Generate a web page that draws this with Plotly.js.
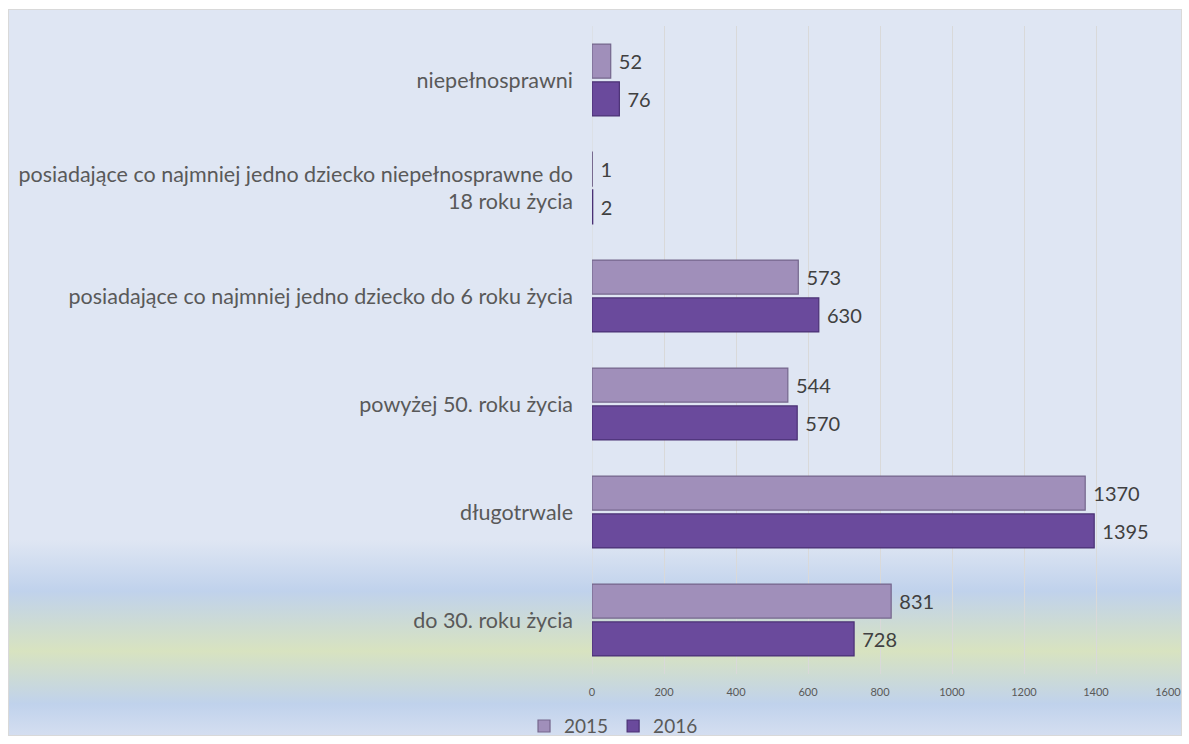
<!DOCTYPE html>
<html>
<head>
<meta charset="utf-8">
<script src="https://cdn.plot.ly/plotly-3.0.1.min.js"></script>
<style>
  html, body { margin: 0; padding: 0; background: #ffffff; }
  #wrap { position: relative; width: 1189px; height: 744px; overflow: hidden; }
  #bg {
    position: absolute; left: 8px; top: 9px; width: 1172px; height: 725px;
    border: 1px solid #d9d9d9;
    background: linear-gradient(to bottom,
      #dfe6f3 0px, #dfe6f3 530px, #c0d2ec 581px, #d8e3c0 641px,
      #c0d2ec 694px, #d4def0 725px);
  }
  #chart { position: absolute; left: 0; top: 0; width: 1189px; height: 744px; }
</style>
</head>
<body>
<div id="wrap">
  <div id="bg"></div>
  <div id="chart"></div>
</div>
<script>
const categories = [
  "niepełnosprawni",
  "posiadające co najmniej jedno dziecko niepełnosprawne do<br>18 roku życia",
  "posiadające co najmniej jedno dziecko do 6 roku życia",
  "powyżej 50. roku życia",
  "długotrwale",
  "do 30. roku życia"
];
const values2015 = [52, 1, 573, 544, 1370, 831];
const values2016 = [76, 2, 630, 570, 1395, 728];
const seriesNames = ["2015", "2016"];
const xTicks = [0, 200, 400, 600, 800, 1000, 1200, 1400, 1600];

const FONT = "Lato, 'Open Sans', sans-serif";

function barTrace(name, vals, fill, line) {
  return {
    type: "bar",
    orientation: "h",
    name: name,
    x: vals,
    y: categories,
    marker: { color: fill, line: { color: line, width: 1.2 } },
    texttemplate: "\u00a0%{x}",
    textposition: "outside",
    constraintext: "none",
    cliponaxis: false,
    textfont: { family: FONT, size: 20, color: "#404040" },
    hoverinfo: "x+y"
  };
}

const data = [
  barTrace(seriesNames[0], values2015, "#a08fba", "#74668c"),
  barTrace(seriesNames[1], values2016, "#6a4a9c", "#4a3074")
];

const layout = {
  width: 1189,
  height: 744,
  paper_bgcolor: "rgba(0,0,0,0)",
  plot_bgcolor: "rgba(0,0,0,0)",
  margin: { l: 592, r: 21, t: 26, b: 70 },
  barmode: "group",
  bargap: 0.3,
  bargroupgap: 0.1,
  font: { family: FONT, color: "#595959" },
  xaxis: {
    range: [0, 1600],
    tickvals: xTicks,
    ticktext: xTicks.map(String),
    showgrid: true,
    gridcolor: "#d9d9d9",
    gridwidth: 1,
    zeroline: false,
    showline: false,
    ticks: "",
    ticklabelstandoff: 10,
    tickfont: { family: FONT, size: 11, color: "#595959" },
    fixedrange: true
  },
  yaxis: {
    type: "category",
    autorange: "reversed",
    showgrid: false,
    zeroline: false,
    showline: false,
    ticks: "",
    ticklabelstandoff: 18,
    tickfont: { family: FONT, size: 21.5, color: "#595959" },
    fixedrange: true
  },
  shapes: [{
    type: "line", xref: "x", yref: "paper",
    x0: 0, x1: 0, y0: 0, y1: 1,
    line: { color: "#d9d9d9", width: 1 },
    layer: "below"
  }],
  showlegend: true,
  legend: {
    orientation: "h",
    xref: "container", yref: "container",
    x: 0.516, xanchor: "center",
    y: 0.024, yanchor: "middle",
    font: { family: FONT, size: 19, color: "#595959" },
    itemwidth: 30,
    bgcolor: "rgba(0,0,0,0)"
  }
};

Plotly.newPlot("chart", data, layout, { displayModeBar: false, staticPlot: true });
</script>
</body>
</html>
